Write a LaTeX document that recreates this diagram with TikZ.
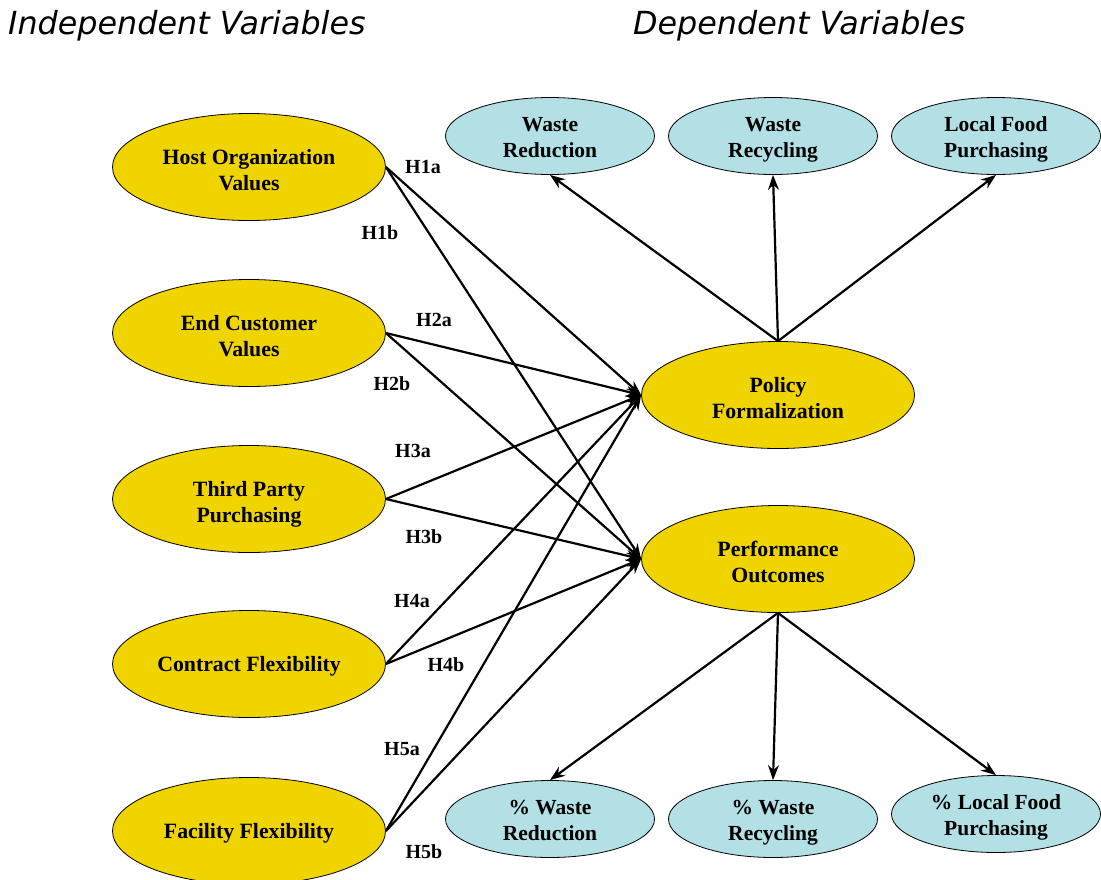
\documentclass[tikz,border=0pt]{standalone}
\usepackage{fontspec}
\setmainfont{Liberation Serif}
\newfontfamily\titlefont{DejaVu Sans}
\usetikzlibrary{shapes.geometric,arrows.meta}
\definecolor{ygold}{RGB}{240,212,0}
\definecolor{pcyan}{RGB}{178,224,228}
\newcommand\etxt[2][-5pt]{\raisebox{#1}[\height][\depth]{\begin{tabular}{@{}c@{}}#2\end{tabular}}}
\begin{document}
\begin{tikzpicture}[x=1pt,y=-1pt,
  bigell/.style={ellipse,draw=black,line width=0.8pt,fill=ygold,minimum width=273pt,minimum height=107pt,inner sep=0pt,font=\fontsize{21.8}{26}\selectfont\bfseries},
  smallell/.style={ellipse,draw=black,line width=0.8pt,fill=pcyan,minimum width=209pt,minimum height=77pt,inner sep=0pt,font=\fontsize{21.5}{26}\selectfont\bfseries},
  hlab/.style={font=\fontsize{20}{22}\selectfont\bfseries,inner sep=0pt},
  conn/.style={line width=2.2pt,-{Stealth[length=15pt,width=11pt]}},
  ttl/.style={font=\titlefont\itshape\fontsize{31.8}{36}\selectfont,inner sep=0pt,anchor=west}]
\useasboundingbox (0,0) rectangle (1101,879);
\node[ttl] (tind) at (8,26) {Independent Variables};
\node[ttl] (tdep) at (633,26) {Dependent Variables};

\node[bigell] (host) at (249,167) {\etxt{Host Organization\\Values}};
\node[bigell] (endc) at (249,333) {\etxt{End Customer\\Values}};
\node[bigell] (third) at (249,499) {\etxt{Third Party\\Purchasing}};
\node[bigell] (contract) at (249,664) {\etxt[-2pt]{Contract Flexibility}};
\node[bigell] (facility) at (249,831) {\etxt[-2pt]{Facility Flexibility}};

\node[bigell] (policy) at (778,395) {\etxt{Policy\\Formalization}};
\node[bigell] (perf) at (778,559) {\etxt{Performance\\Outcomes}};

\node[smallell] (wr) at (550,136) {\etxt[-3pt]{Waste\\Reduction}};
\node[smallell] (wrec) at (773,136) {\etxt[-3pt]{Waste\\Recycling}};
\node[smallell] (lfp) at (996,136) {\etxt[-3pt]{Local Food\\Purchasing}};

\node[smallell] (pwr) at (550,819) {\etxt[-3pt]{\% Waste\\Reduction}};
\node[smallell] (pwrec) at (773,819) {\etxt[-3pt]{\% Waste\\Recycling}};
\node[smallell] (plfp) at (996,814) {\etxt[-3pt]{\% Local Food\\Purchasing}};

\foreach \s in {host,endc,third,contract,facility}{
  \draw[conn] (\s.east) -- (policy.west);
  \draw[conn] (\s.east) -- (perf.west);
}
\draw[conn] (policy.north) -- (wr.south);
\draw[conn] (policy.north) -- (wrec.south);
\draw[conn] (policy.north) -- (lfp.south);
\draw[conn] (perf.south) -- (pwr.north);
\draw[conn] (perf.south) -- (pwrec.north);
\draw[conn] (perf.south) -- (plfp.north);

\node[hlab] (h1a) at (423,167) {H1a};
\node[hlab] (h1b) at (380,233) {H1b};
\node[hlab] (h2a) at (434,320) {H2a};
\node[hlab] (h2b) at (392,384) {H2b};
\node[hlab] (h3a) at (413,451) {H3a};
\node[hlab] (h3b) at (424,537) {H3b};
\node[hlab] (h4a) at (412,601) {H4a};
\node[hlab] (h4b) at (446,665) {H4b};
\node[hlab] (h5a) at (402,749) {H5a};
\node[hlab] (h5b) at (424,852) {H5b};
\end{tikzpicture}
\end{document}
